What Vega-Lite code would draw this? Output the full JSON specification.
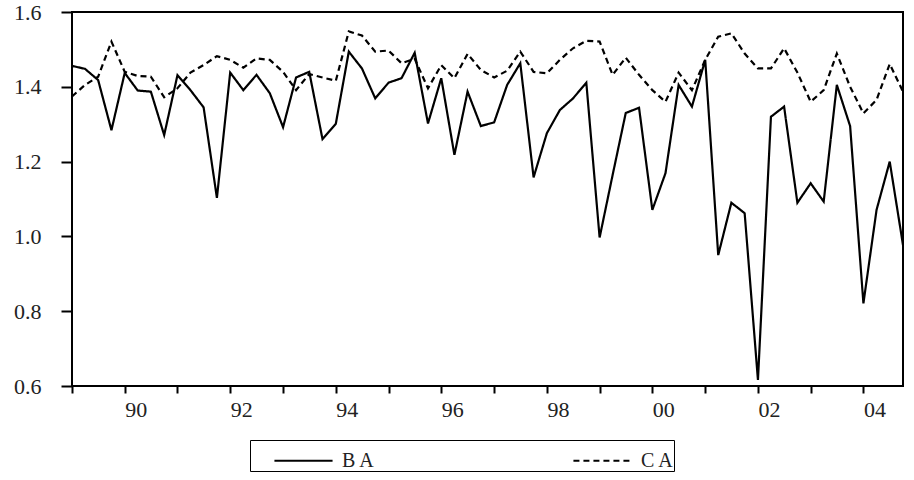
{
  "$schema": "https://vega.github.io/schema/vega-lite/v6.json",
  "width": 831,
  "height": 374,
  "autosize": "none",
  "padding": {"left": 72, "top": 12, "right": 11, "bottom": 94},
  "background": "white",
  "config": {
    "font": "Liberation Serif",
    "view": {"stroke": "black", "strokeWidth": 2},
    "axis": {"grid": false, "domain": false, "tickColor": "black", "tickWidth": 2, "labelColor": "#222", "labelFont": "Liberation Serif"}
  },
  "data": {"values": [
    {"d":"1989-01-01","BA":1.456,"CA":1.374},
    {"d":"1989-04-01","BA":1.448,"CA":1.405},
    {"d":"1989-07-01","BA":1.418,"CA":1.427},
    {"d":"1989-10-01","BA":1.284,"CA":1.521},
    {"d":"1990-01-01","BA":1.437,"CA":1.440},
    {"d":"1990-04-01","BA":1.390,"CA":1.429},
    {"d":"1990-07-01","BA":1.387,"CA":1.427},
    {"d":"1990-10-01","BA":1.271,"CA":1.372},
    {"d":"1991-01-01","BA":1.431,"CA":1.396},
    {"d":"1991-04-01","BA":1.391,"CA":1.438},
    {"d":"1991-07-01","BA":1.345,"CA":1.458},
    {"d":"1991-10-01","BA":1.103,"CA":1.482},
    {"d":"1992-01-01","BA":1.438,"CA":1.472},
    {"d":"1992-04-01","BA":1.391,"CA":1.451},
    {"d":"1992-07-01","BA":1.432,"CA":1.476},
    {"d":"1992-10-01","BA":1.383,"CA":1.472},
    {"d":"1993-01-01","BA":1.292,"CA":1.440},
    {"d":"1993-04-01","BA":1.425,"CA":1.391},
    {"d":"1993-07-01","BA":1.440,"CA":1.434},
    {"d":"1993-10-01","BA":1.260,"CA":1.425},
    {"d":"1994-01-01","BA":1.301,"CA":1.416},
    {"d":"1994-04-01","BA":1.494,"CA":1.548},
    {"d":"1994-07-01","BA":1.449,"CA":1.537},
    {"d":"1994-10-01","BA":1.369,"CA":1.494},
    {"d":"1995-01-01","BA":1.411,"CA":1.497},
    {"d":"1995-04-01","BA":1.423,"CA":1.463},
    {"d":"1995-07-01","BA":1.491,"CA":1.475},
    {"d":"1995-10-01","BA":1.302,"CA":1.396},
    {"d":"1996-01-01","BA":1.423,"CA":1.458},
    {"d":"1996-04-01","BA":1.218,"CA":1.423},
    {"d":"1996-07-01","BA":1.387,"CA":1.488},
    {"d":"1996-10-01","BA":1.295,"CA":1.445},
    {"d":"1997-01-01","BA":1.305,"CA":1.425},
    {"d":"1997-04-01","BA":1.405,"CA":1.443},
    {"d":"1997-07-01","BA":1.463,"CA":1.494},
    {"d":"1997-10-01","BA":1.158,"CA":1.440},
    {"d":"1998-01-01","BA":1.276,"CA":1.436},
    {"d":"1998-04-01","BA":1.338,"CA":1.472},
    {"d":"1998-07-01","BA":1.369,"CA":1.503},
    {"d":"1998-10-01","BA":1.411,"CA":1.523},
    {"d":"1999-01-01","BA":0.997,"CA":1.521},
    {"d":"1999-04-01","BA":1.164,"CA":1.432},
    {"d":"1999-07-01","BA":1.330,"CA":1.478},
    {"d":"1999-10-01","BA":1.344,"CA":1.432},
    {"d":"2000-01-01","BA":1.071,"CA":1.391},
    {"d":"2000-04-01","BA":1.169,"CA":1.360},
    {"d":"2000-07-01","BA":1.405,"CA":1.438},
    {"d":"2000-10-01","BA":1.347,"CA":1.391},
    {"d":"2001-01-01","BA":1.472,"CA":1.472},
    {"d":"2001-04-01","BA":0.950,"CA":1.534},
    {"d":"2001-07-01","BA":1.090,"CA":1.543},
    {"d":"2001-10-01","BA":1.062,"CA":1.489},
    {"d":"2002-01-01","BA":0.616,"CA":1.449},
    {"d":"2002-04-01","BA":1.320,"CA":1.449},
    {"d":"2002-07-01","BA":1.347,"CA":1.503},
    {"d":"2002-10-01","BA":1.090,"CA":1.438},
    {"d":"2003-01-01","BA":1.142,"CA":1.360},
    {"d":"2003-04-01","BA":1.093,"CA":1.391},
    {"d":"2003-07-01","BA":1.405,"CA":1.489},
    {"d":"2003-10-01","BA":1.295,"CA":1.400},
    {"d":"2004-01-01","BA":0.821,"CA":1.329},
    {"d":"2004-04-01","BA":1.071,"CA":1.365},
    {"d":"2004-07-01","BA":1.200,"CA":1.461},
    {"d":"2004-10-01","BA":0.977,"CA":1.387}
  ]},
  "transform": [{"fold": ["BA", "CA"], "as": ["series", "value"]}],
  "mark": {"type": "line", "color": "black", "strokeWidth": 2.2, "clip": true},
  "encoding": {
    "x": {
      "field": "d", "type": "temporal",
      "scale": {"type": "utc", "domain": [{"year": 1989, "month": 1, "date": 1, "utc": true}, {"year": 2004, "month": 10, "date": 1, "utc": true}]},
      "axis": {
        "title": null,
        "values": [
          {"year": 1989, "utc": true},
          {"year": 1990, "utc": true}, {"year": 1991, "utc": true}, {"year": 1992, "utc": true}, {"year": 1993, "utc": true},
          {"year": 1994, "utc": true}, {"year": 1995, "utc": true}, {"year": 1996, "utc": true}, {"year": 1997, "utc": true},
          {"year": 1998, "utc": true}, {"year": 1999, "utc": true}, {"year": 2000, "utc": true}, {"year": 2001, "utc": true},
          {"year": 2002, "utc": true}, {"year": 2003, "utc": true}, {"year": 2004, "utc": true}
        ],
        "labelExpr": "utcyear(datum.value) % 2 == 0 ? utcFormat(datum.value, '%y') : ''",
        "labelFont": "Liberation Serif",
        "labelFontSize": 22,
        "tickSize": 7,
        "labelPadding": 6,
        "labelOffset": 11,
        "labelFlush": false,
        "labelOverlap": false
      }
    },
    "y": {
      "field": "value", "type": "quantitative",
      "scale": {"domain": [0.6, 1.6], "nice": false, "zero": false},
      "axis": {"title": null, "values": [0.6, 0.8, 1.0, 1.2, 1.4, 1.6], "format": ".1f", "labelFont": "Liberation Serif", "labelFontSize": 22, "tickSize": 11, "labelPadding": 20, "labelFlush": false}
    },
    "strokeDash": {
      "field": "series", "type": "nominal",
      "scale": {"domain": ["BA", "CA"], "range": [[1, 0], [6, 4]]},
      "legend": {
        "title": null,
        "orient": "none",
        "legendX": 178,
        "legendY": 428,
        "direction": "horizontal",
        "columns": 2,
        "columnPadding": 174,
        "padding": 0,
        "strokeColor": "black",
        "symbolType": "M-1.53,0L1.53,0",
        "symbolSize": 1444,
        "symbolOffset": 33,
        "symbolStrokeWidth": 2.2,
        "symbolStrokeColor": "black",
        "labelExpr": "datum.label == 'BA' ? 'B A' : 'C A'",
        "labelFont": "Liberation Serif",
        "labelFontSize": 20,
        "labelColor": "#222",
        "labelOffset": 18
      }
    }
  }
}
